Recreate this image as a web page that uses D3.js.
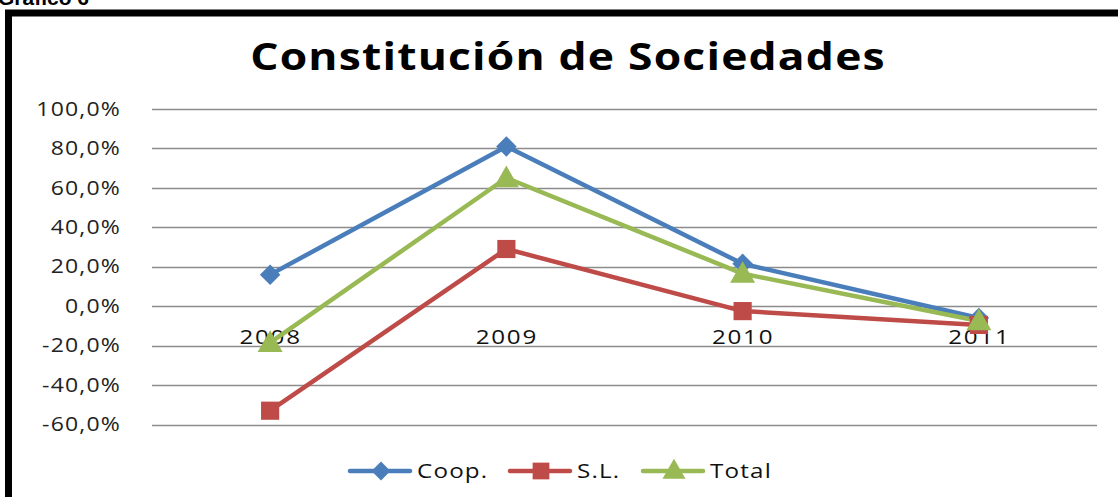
<!DOCTYPE html>
<html>
<head>
<meta charset="utf-8">
<script src="https://cdnjs.cloudflare.com/ajax/libs/d3/7.8.5/d3.min.js"></script>
<style>
  body { margin: 0; background: #fff; }
</style>
</head>
<body>
<svg id="chart"></svg>
<script>
// ---------------------------
// Data
// ---------------------------
var years = ["2008", "2009", "2010", "2011"];
var coop = [16.0, 81.0, 21.5, -6.0];
var sl = [-53.0, 29.0, -2.5, -9.5];
var total = [-18.5, 65.0, 16.5, -7.5];
var yTicks = [-60, -40, -20, 0, 20, 40, 60, 80, 100];
var seriesNames = ["Coop.", "S.L.", "Total"];

// ---------------------------
// Constants
// ---------------------------
var W = 1118, H = 497;
var fontMain = "'Open Sans', 'DejaVu Sans', sans-serif";
var stretch = 1.18; // source text is horizontally stretched
var colours = ["#4a7ebb", "#be4b48", "#98b954"];
var markers = [d3.symbolSquare, d3.symbolSquare, d3.symbolTriangle];
var markerRot = [45, 0, 0];
var markerSizes = [210, 330, 270];
var series = [coop, sl, total];

var svg = d3.select("#chart").attr("width", W).attr("height", H);

svg.append("rect").attr("width", W).attr("height", H).attr("fill", "#fff");

// caption above the frame (mostly clipped, as in the source)
svg.append("text")
  .attr("x", -2)
  .attr("y", 5)
  .attr("font-family", "'Liberation Sans', Arial, sans-serif")
  .attr("font-weight", "bold")
  .attr("font-size", 21)
  .text("Gráfico 6");

// frame
svg.append("rect")
  .attr("x", 8.5)
  .attr("y", 13)
  .attr("width", W + 20)
  .attr("height", H + 20)
  .attr("fill", "none")
  .attr("stroke", "#000")
  .attr("stroke-width", 7);

// title
svg.append("text")
  .attr("transform", "translate(568,70) scale(1.2,1)")
  .attr("text-anchor", "middle")
  .attr("font-family", fontMain)
  .attr("font-weight", "bold")
  .attr("font-size", 37)
  .attr("letter-spacing", 1)
  .attr("fill", "#000")
  .text("Constitución de Sociedades");

// ---------------------------
// Scales
// ---------------------------
var x = d3.scalePoint().domain(years).range([152, 1097]).padding(0.5);
var y = d3.scaleLinear().domain([-60, 100]).range([424.5, 109]);

// grid
svg.append("g")
  .selectAll("line")
  .data(yTicks)
  .enter()
  .append("line")
  .attr("x1", 152)
  .attr("x2", 1097)
  .attr("y1", function(d) { return Math.round(y(d)) + 0.5; })
  .attr("y2", function(d) { return Math.round(y(d)) + 0.5; })
  .attr("stroke", "#8c8c8c")
  .attr("stroke-width", 1.3);

// y axis labels
var yAxis = svg.append("g")
  .attr("transform", "translate(152,0)")
  .call(d3.axisLeft(y).tickValues(yTicks).tickSize(0).tickPadding(31)
    .tickFormat(function(d) { return d3.format(".1f")(d).replace(".", ",").replace("−", "-") + "%"; }));
yAxis.select(".domain").remove();
yAxis.selectAll("text")
  .attr("x", -31 / stretch)
  .attr("transform", "scale(" + stretch + ",1)")
  .attr("font-family", fontMain)
  .attr("font-size", 19.5)
  .attr("fill", "#222")
  .attr("letter-spacing", 1);

// x axis labels (sit just under the zero line)
var xAxis = svg.append("g")
  .attr("transform", "translate(0," + y(0) + ")")
  .call(d3.axisBottom(x).tickSize(0).tickPadding(23));
xAxis.select(".domain").remove();
xAxis.selectAll("text")
  .attr("transform", "scale(" + stretch + ",1)")
  .attr("font-family", fontMain)
  .attr("font-size", 20.5)
  .attr("fill", "#111")
  .attr("letter-spacing", 1.5);

// ---------------------------
// Lines and markers
// ---------------------------
var line = d3.line()
  .x(function(d, i) { return x(years[i]); })
  .y(function(d) { return y(d); });

series.forEach(function(s, k) {
  svg.append("path")
    .datum(s)
    .attr("d", line)
    .attr("fill", "none")
    .attr("stroke", colours[k])
    .attr("stroke-width", 4.5)
    .attr("stroke-linejoin", "round");
});

series.forEach(function(s, k) {
  svg.append("g")
    .selectAll("path")
    .data(s)
    .enter()
    .append("path")
    .attr("transform", function(d, i) {
      return "translate(" + x(years[i]) + "," + (y(d) + (k === 2 ? 2 : 0)) + ") rotate(" + markerRot[k] + ")";
    })
    .attr("d", d3.symbol().type(markers[k]).size(markerSizes[k]))
    .attr("fill", colours[k]);
});

// ---------------------------
// Legend
// ---------------------------
var legendX = [350, 510, 643];
var legend = svg.append("g");
seriesNames.forEach(function(name, k) {
  var g = legend.append("g").attr("transform", "translate(" + legendX[k] + ",471)");
  g.append("line")
    .attr("x1", 0).attr("x2", 60)
    .attr("stroke", colours[k])
    .attr("stroke-width", 4.5)
    .attr("stroke-linecap", "round");
  g.append("path")
    .attr("transform", "translate(31," + (k === 2 ? 1 : 0) + ") rotate(" + markerRot[k] + ")")
    .attr("d", d3.symbol().type(markers[k]).size(markerSizes[k] * 0.85))
    .attr("fill", colours[k]);
  g.append("text")
    .attr("transform", "translate(67,7) scale(" + stretch + ",1)")
    .attr("font-family", fontMain)
    .attr("font-size", 20.5)
    .attr("fill", "#111")
    .attr("letter-spacing", 1)
    .text(name);
});
</script>
</body>
</html>
